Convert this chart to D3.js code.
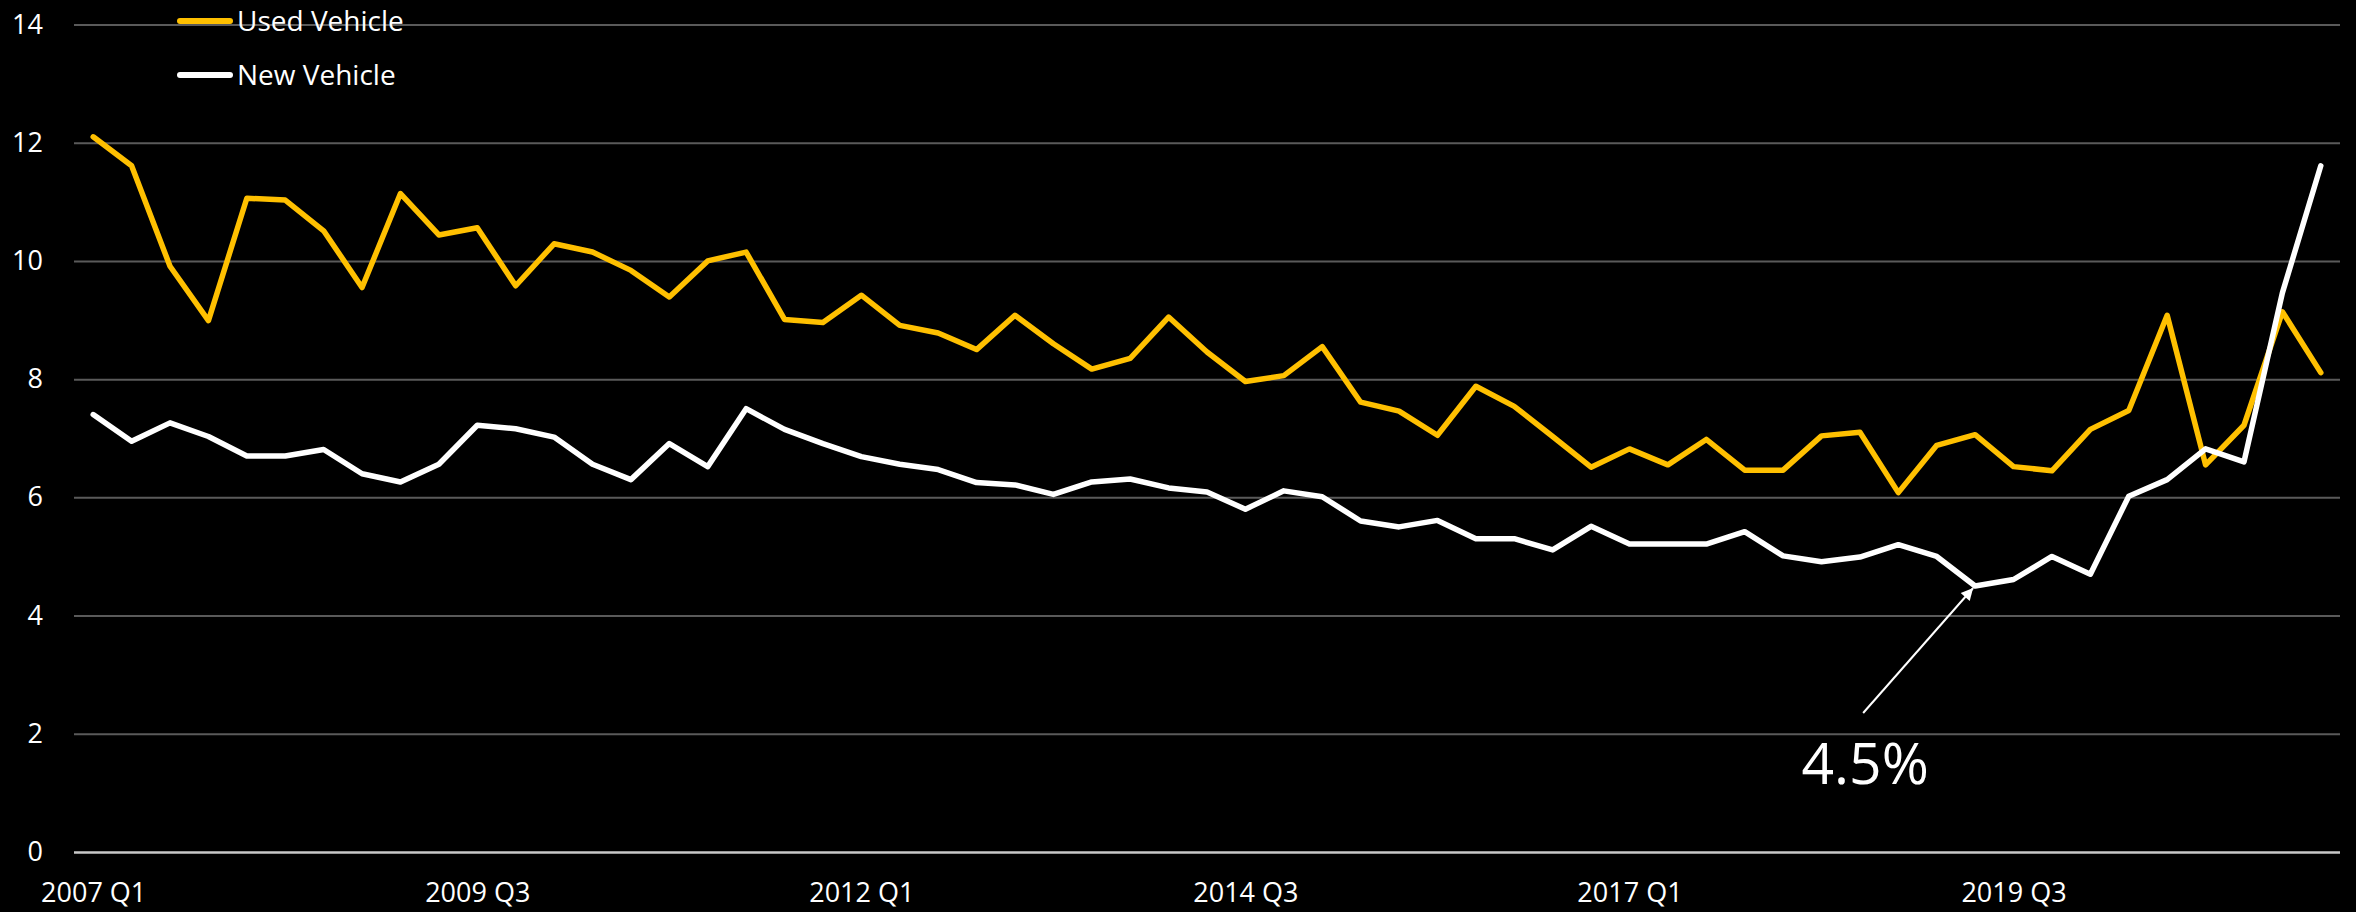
<!DOCTYPE html>
<html>
<head>
<meta charset="utf-8">
<script src="https://cdn.jsdelivr.net/npm/d3@7"></script>
<style>
  body { margin: 0; background: #000; }
  svg { display: block; }
  text { font-family: "Open Sans", sans-serif; fill: #fff; }
</style>
</head>
<body>
<svg width="2356" height="912"></svg>
<script>
// quarters 2007 Q1 .. 2021 Q3
const quarters = [];
for (let yr = 2007; yr <= 2021; yr++) {
  for (let q = 1; q <= 4; q++) {
    if (yr === 2021 && q > 3) break;
    quarters.push(yr + " Q" + q);
  }
}

const xTickLabels = ["2007 Q1", "2009 Q3", "2012 Q1", "2014 Q3", "2017 Q1", "2019 Q3"];
const yTicks = [0, 2, 4, 6, 8, 10, 12, 14];

const usedVehicle = [12.10, 11.61, 9.91, 8.99, 11.06, 11.03, 10.51, 9.55, 11.14, 10.44,
  10.56, 9.58, 10.29, 10.15, 9.84, 9.39, 10.00, 10.15, 9.01, 8.96,
  9.42, 8.91, 8.78, 8.50, 9.08, 8.60, 8.17, 8.35, 9.05, 8.46,
  7.96, 8.06, 8.55, 7.61, 7.46, 7.05, 7.88, 7.54, 7.03, 6.51,
  6.82, 6.55, 6.98, 6.46, 6.46, 7.04, 7.10, 6.08, 6.88, 7.06,
  6.52, 6.45, 7.15, 7.47, 9.08, 6.55, 7.22, 9.14, 8.11];

const newVehicle = [7.40, 6.95, 7.26, 7.03, 6.70, 6.70, 6.81, 6.40, 6.26, 6.56,
  7.22, 7.16, 7.02, 6.56, 6.30, 6.91, 6.52, 7.50, 7.15, 6.91,
  6.69, 6.56, 6.47, 6.25, 6.21, 6.05, 6.26, 6.31, 6.16, 6.09,
  5.80, 6.11, 6.01, 5.60, 5.50, 5.61, 5.30, 5.30, 5.11, 5.51,
  5.21, 5.21, 5.21, 5.42, 5.01, 4.91, 4.99, 5.20, 5.00, 4.50,
  4.61, 5.00, 4.70, 6.02, 6.30, 6.82, 6.60, 9.46, 11.61];

const annotQuarter = "2019 Q2";
const annotValue = 4.5;
const annotText = "4.5%";

var svg = d3.select("svg"),
  width = +svg.attr("width"),
  height = +svg.attr("height");

var margin = {top: 24.5, bottom: 60, left: 74, right: 16}
var plotRight = width - margin.right
var plotBottom = 852

svg.append("rect").attr("width", width).attr("height", height).attr("fill", "#000")

var x = d3.scalePoint()
  .domain(quarters)
  .range([margin.left, plotRight])
  .padding(0.5)

var y = d3.scaleLinear()
  .domain([0, 14])
  .range([plotBottom, margin.top])

// y gridlines + labels
var yAxis = d3.axisLeft(y)
  .tickValues(yTicks)
  .tickSize(-(plotRight - margin.left))
  .tickPadding(31)

var gy = svg.append("g")
  .attr("transform", "translate(" + margin.left + ",0)")
  .call(yAxis)

gy.select(".domain").remove()
gy.selectAll(".tick line")
  .attr("stroke", d => d === 0 ? "#c8c8c8" : "#5a5a5a")
  .attr("stroke-width", d => d === 0 ? 2.5 : 2)
gy.selectAll(".tick text")
  .style("font-size", "27px")
  .style("font-family", "'Open Sans', sans-serif")
  .attr("fill", "#fff")

// x axis labels
var xAxis = d3.axisBottom(x)
  .tickValues(xTickLabels)
  .tickSize(0)
  .tickPadding(31)

var gx = svg.append("g")
  .attr("transform", "translate(0," + plotBottom + ")")
  .call(xAxis)

gx.select(".domain").remove()
gx.selectAll(".tick text")
  .style("font-size", "27px")
  .style("font-family", "'Open Sans', sans-serif")
  .attr("fill", "#fff")

// lines
var line = d3.line()
  .x((d, i) => x(quarters[i]))
  .y(d => y(d))

svg.append("path")
  .datum(usedVehicle)
  .attr("d", line)
  .attr("fill", "none")
  .attr("stroke", "#FFC000")
  .attr("stroke-width", 5.5)
  .attr("stroke-linejoin", "round")
  .attr("stroke-linecap", "round")

svg.append("path")
  .datum(newVehicle)
  .attr("d", line)
  .attr("fill", "none")
  .attr("stroke", "#fff")
  .attr("stroke-width", 5.5)
  .attr("stroke-linejoin", "round")
  .attr("stroke-linecap", "round")

// legend
var legend = [
  {name: "Used Vehicle", color: "#FFC000", y: 21},
  {name: "New Vehicle", color: "#fff", y: 75}
]
var lg = svg.append("g")
legend.forEach(d => {
  lg.append("line")
    .attr("x1", 180).attr("x2", 230)
    .attr("y1", d.y).attr("y2", d.y)
    .attr("stroke", d.color)
    .attr("stroke-width", 6)
    .attr("stroke-linecap", "round")
  lg.append("text")
    .attr("x", 237)
    .attr("y", d.y + 10)
    .style("font-size", "28px")
    .text(d.name)
})

// annotation arrow
svg.append("defs").append("marker")
  .attr("id", "arrow")
  .attr("viewBox", "0 0 10 10")
  .attr("refX", 10).attr("refY", 5)
  .attr("markerWidth", 14).attr("markerHeight", 12)
  .attr("markerUnits", "userSpaceOnUse")
  .attr("orient", "auto")
  .append("path")
  .attr("d", "M0,0 L10,5 L0,10 z")
  .attr("fill", "#fff")

var ax = x(annotQuarter), ay = y(annotValue)

svg.append("line")
  .attr("x1", ax - 112).attr("y1", ay + 127)
  .attr("x2", ax - 2).attr("y2", ay + 2)
  .attr("stroke", "#fff")
  .attr("stroke-width", 2)
  .attr("marker-end", "url(#arrow)")

svg.append("text")
  .attr("x", ax - 110)
  .attr("y", ay + 198)
  .attr("text-anchor", "middle")
  .style("font-size", "57px")
  .text(annotText)
</script>
</body>
</html>
